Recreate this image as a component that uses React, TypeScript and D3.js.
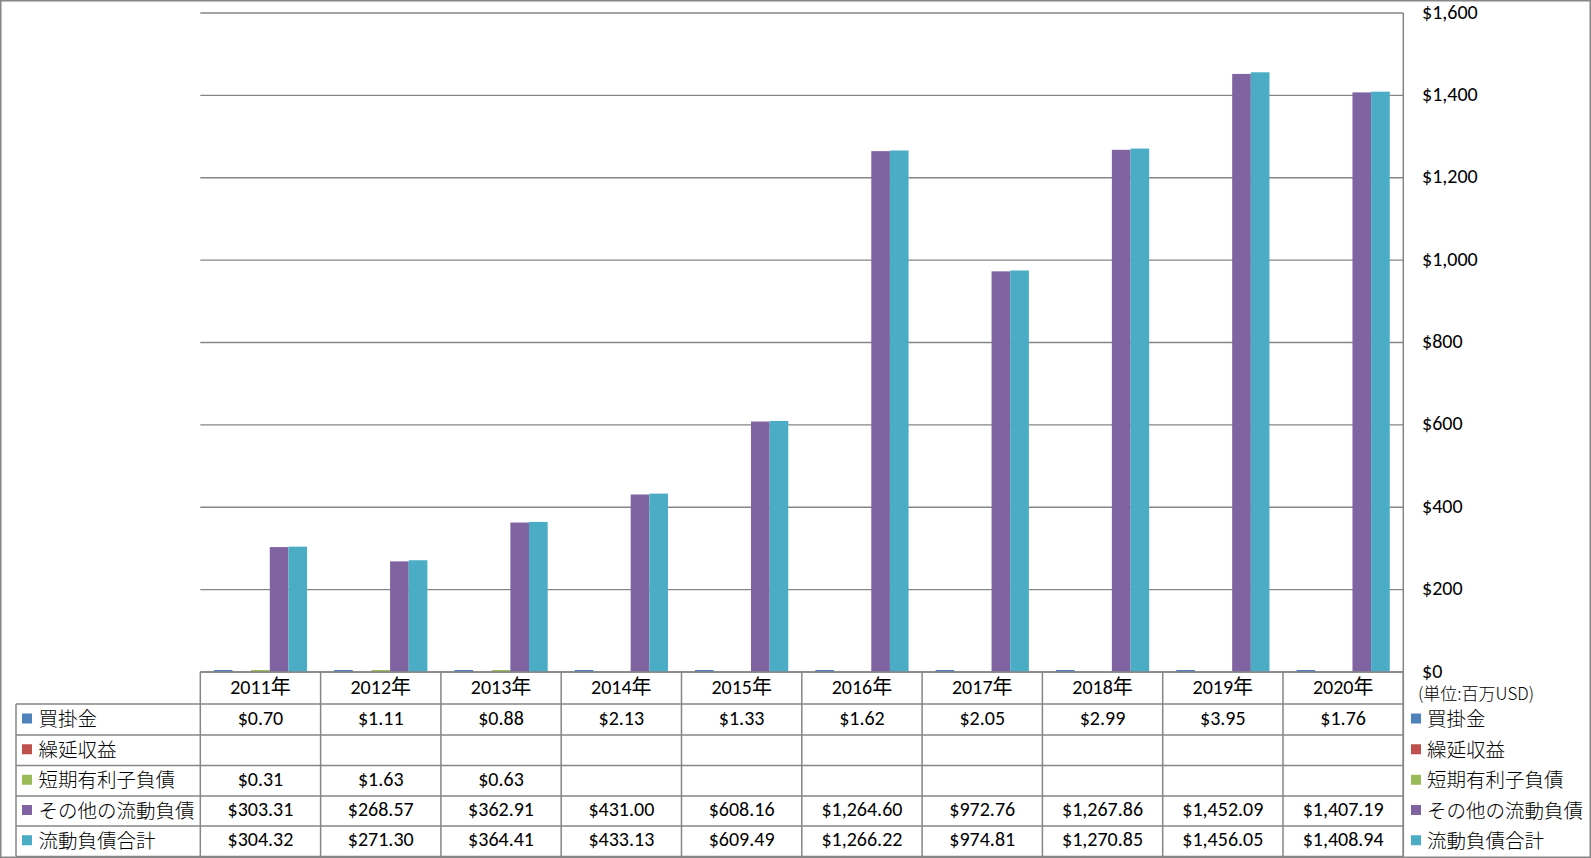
import React from "react";
import * as d3 from "d3";

const years = ["2011年", "2012年", "2013年", "2014年", "2015年", "2016年", "2017年", "2018年", "2019年", "2020年"];
const seriesNames = ["買掛金", "繰延収益", "短期有利子負債", "その他の流動負債", "流動負債合計"];
const seriesColors = ["#4F81BD", "#C0504D", "#9BBB59", "#8064A2", "#4BACC6"];

const accountsPayable: (number | null)[] = [0.70, 1.11, 0.88, 2.13, 1.33, 1.62, 2.05, 2.99, 3.95, 1.76];
const deferredRevenue: (number | null)[] = [null, null, null, null, null, null, null, null, null, null];
const shortTermDebt: (number | null)[] = [0.31, 1.63, 0.63, null, null, null, null, null, null, null];
const otherCurrent: (number | null)[] = [303.31, 268.57, 362.91, 431.00, 608.16, 1264.60, 972.76, 1267.86, 1452.09, 1407.19];
const totalCurrent: (number | null)[] = [304.32, 271.30, 364.41, 433.13, 609.49, 1266.22, 974.81, 1270.85, 1456.05, 1408.94];

const seriesValues = [accountsPayable, deferredRevenue, shortTermDebt, otherCurrent, totalCurrent];
const yTicks = [0, 200, 400, 600, 800, 1000, 1200, 1400, 1600];
const unitLabel = "(単位:百万USD)";

const W = 1591;
const H = 858;
const plotLeft = 200.3;
const plotRight = 1403.3;
const plotTop = 13;
const plotBottom = 672;
const tableLeft = 16;
const rowEdges = [672, 704, 735, 765.5, 796, 826, 856.5];

const GRID = "#868686";
const LATIN = "Carlito, Lato, 'Noto Sans CJK JP', sans-serif";
const CJK = "'Noto Sans CJK JP', sans-serif";
const LATIN_SIZE = 20;
const TXT_DY = -2;

export default function App() {
  const x = d3.scaleBand<string>().domain(years).range([plotLeft, plotRight]).paddingInner(0).paddingOuter(0);
  const xs = d3
    .scaleBand<string>()
    .domain(seriesNames)
    .range([0, x.bandwidth()])
    .paddingInner(0)
    .paddingOuter(0.725);
  const y = d3.scaleLinear().domain([0, 1600]).range([plotBottom, plotTop]);
  const fmtVal = (v: number) => "$" + d3.format(",.2f")(v);
  const fmtTick = d3.format("$,.0f");

  const colEdges = years.map((yr) => x(yr) as number).concat([plotRight]);
  const rowCenter = (i: number) => (rowEdges[i] + rowEdges[i + 1]) / 2;

  return (
    <svg
      width={W}
      height={H}
      style={{ position: "absolute", left: 0, top: 0, background: "#fff" }}
    >
      <rect x={0} y={0} width={W} height={H} fill="#fff" />
      {yTicks.map((t) => (
        <line key={"g" + t} x1={plotLeft} x2={plotRight} y1={y(t)} y2={y(t)} stroke={GRID} strokeWidth={1.3} />
      ))}
      {seriesValues.map((vals, si) =>
        vals.map((v, i) => {
          if (v == null) return null;
          const bx = (x(years[i]) as number) + (xs(seriesNames[si]) as number);
          const h = Math.max(plotBottom - y(v), 2);
          return (
            <rect
              key={`b${si}-${i}`}
              x={bx}
              y={plotBottom - h}
              width={xs.bandwidth()}
              height={h}
              fill={seriesColors[si]}
            />
          );
        })
      )}
      <line x1={plotRight} x2={plotRight} y1={plotTop} y2={rowEdges[6]} stroke={GRID} strokeWidth={1.5} />
      {yTicks.map((t) => (
        <text
          key={"t" + t}
          x={1422}
          y={y(t) - 1.5}
          dominantBaseline="central"
          fontFamily={LATIN}
          fontSize={LATIN_SIZE}
          fill="#000"
        >
          {fmtTick(t)}
        </text>
      ))}
      <text x={1418} y={692} dominantBaseline="central" fontFamily={CJK} fontSize={17} fontWeight={300} fill="#000">
        {unitLabel}
      </text>
      <line x1={plotLeft} x2={plotRight} y1={rowEdges[0]} y2={rowEdges[0]} stroke={GRID} strokeWidth={1.5} />
      {rowEdges.slice(1).map((ry, i) => (
        <line key={"r" + i} x1={tableLeft} x2={plotRight} y1={ry} y2={ry} stroke={GRID} strokeWidth={1.5} />
      ))}
      <line x1={tableLeft} x2={tableLeft} y1={rowEdges[1]} y2={rowEdges[6]} stroke={GRID} strokeWidth={1.5} />
      {colEdges.map((cx, i) => (
        <line key={"c" + i} x1={cx} x2={cx} y1={rowEdges[0]} y2={rowEdges[6]} stroke={GRID} strokeWidth={1.5} />
      ))}
      {years.map((yr) => (
        <text
          key={"y" + yr}
          x={(x(yr) as number) + x.bandwidth() / 2}
          y={rowCenter(0) - 1}
          textAnchor="middle"
          dominantBaseline="central"
          fontFamily={LATIN}
          fontSize={LATIN_SIZE}
          fill="#000"
        >
          {yr}
        </text>
      ))}
      {seriesNames.map((name, si) => (
        <g key={"row" + si}>
          <rect x={22} y={rowCenter(si + 1) - 6} width={10} height={10} fill={seriesColors[si]} />
          <text
            x={38.5}
            y={rowCenter(si + 1) + TXT_DY}
            dominantBaseline="central"
            fontFamily={CJK}
            fontSize={19.5}
            fontWeight={300}
            fill="#000"
          >
            {name}
          </text>
          <rect x={1411} y={rowCenter(si + 1) - 6} width={10} height={10} fill={seriesColors[si]} />
          <text
            x={1427}
            y={rowCenter(si + 1) + TXT_DY}
            dominantBaseline="central"
            fontFamily={CJK}
            fontSize={19.5}
            fontWeight={300}
            fill="#000"
          >
            {name}
          </text>
          {seriesValues[si].map((v, i) =>
            v == null ? null : (
              <text
                key={`v${si}-${i}`}
                x={(x(years[i]) as number) + x.bandwidth() / 2}
                y={rowCenter(si + 1) + TXT_DY}
                textAnchor="middle"
                dominantBaseline="central"
                fontFamily={LATIN}
                fontSize={LATIN_SIZE}
                fill="#000"
              >
                {fmtVal(v)}
              </text>
            )
          )}
        </g>
      ))}
      <rect x={0.75} y={0.75} width={W - 1.5} height={H - 1.5} fill="none" stroke={GRID} strokeWidth={1.5} />
    </svg>
  );
}
